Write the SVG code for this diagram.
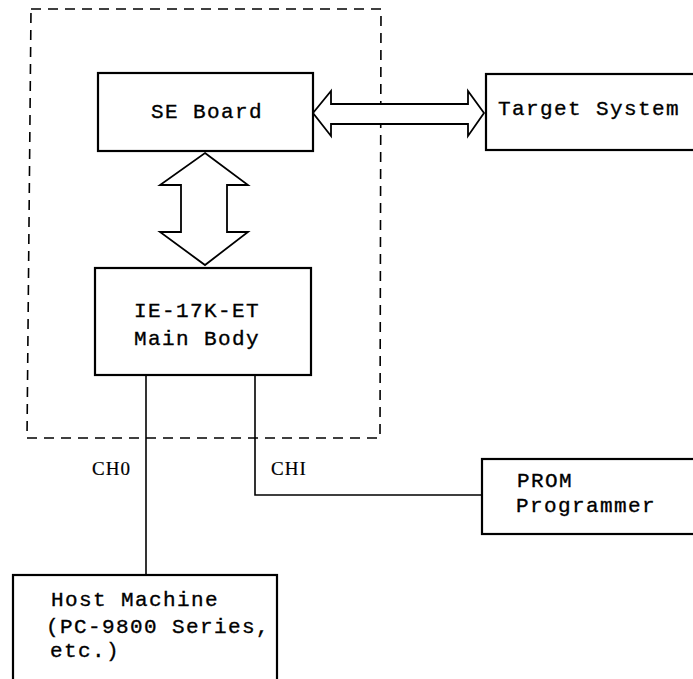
<svg xmlns="http://www.w3.org/2000/svg" width="693" height="679" viewBox="0 0 693 679">
<style>
.box{fill:#fff;stroke:#000;stroke-width:2.2}
.arrow{fill:#fff;stroke:#000;stroke-width:1.8;stroke-linejoin:miter}
.line{fill:none;stroke:#000;stroke-width:1.6}
.dash{fill:none;stroke:#000;stroke-width:1.6;stroke-dasharray:10 7}
text{font-family:"Liberation Mono","DejaVu Sans Mono",monospace;font-size:21px;letter-spacing:1.4px;fill:#000;stroke:#000;stroke-width:0.35}
.ch{font-family:"Liberation Serif","Times New Roman",serif;font-size:19px;letter-spacing:1px;stroke-width:0.2}
</style>
<rect width="693" height="679" fill="#fff"/>
<g id="boundary"><path class="dash" d="M31 9 L381 9 L380 438 L27 438 Z"/></g>
<g id="connectors">
<path class="arrow" d="M313 113 L331 91 L331 104 L468 104 L468 91 L484 113 L468 136 L468 124 L331 124 L331 136 Z"/>
<path class="arrow" d="M205 153 L248 185 L227 185 L227 232 L248 232 L205 265 L160 232 L181 232 L181 185 L160 185 Z"/>
<path class="line" d="M146 375 L146 575"/>
<path class="line" d="M255 375 L255 495 L482 495"/>
<text class="ch" x="92" y="475">CH0</text>
<text class="ch" x="271" y="475">CHI</text>
</g>
<g id="se-board"><rect class="box" x="98" y="73" width="215" height="78"/><text x="151" y="118">SE Board</text></g>
<g id="target-system"><rect class="box" x="486" y="74" width="210" height="76"/><text x="498" y="115">Target System</text></g>
<g id="main-body"><rect class="box" x="95" y="268" width="216" height="107"/><text x="134" y="317">IE-17K-ET</text><text x="134" y="345">Main Body</text></g>
<g id="prom"><rect class="box" x="482" y="459" width="214" height="75"/><text x="517" y="487">PROM</text><text x="516" y="512">Programmer</text></g>
<g id="host"><rect class="box" x="13" y="575" width="264" height="110"/><text x="51" y="606">Host Machine</text><text x="46" y="633">(PC-9800 Series,</text><text x="50" y="657">etc.)</text></g>
</svg>
